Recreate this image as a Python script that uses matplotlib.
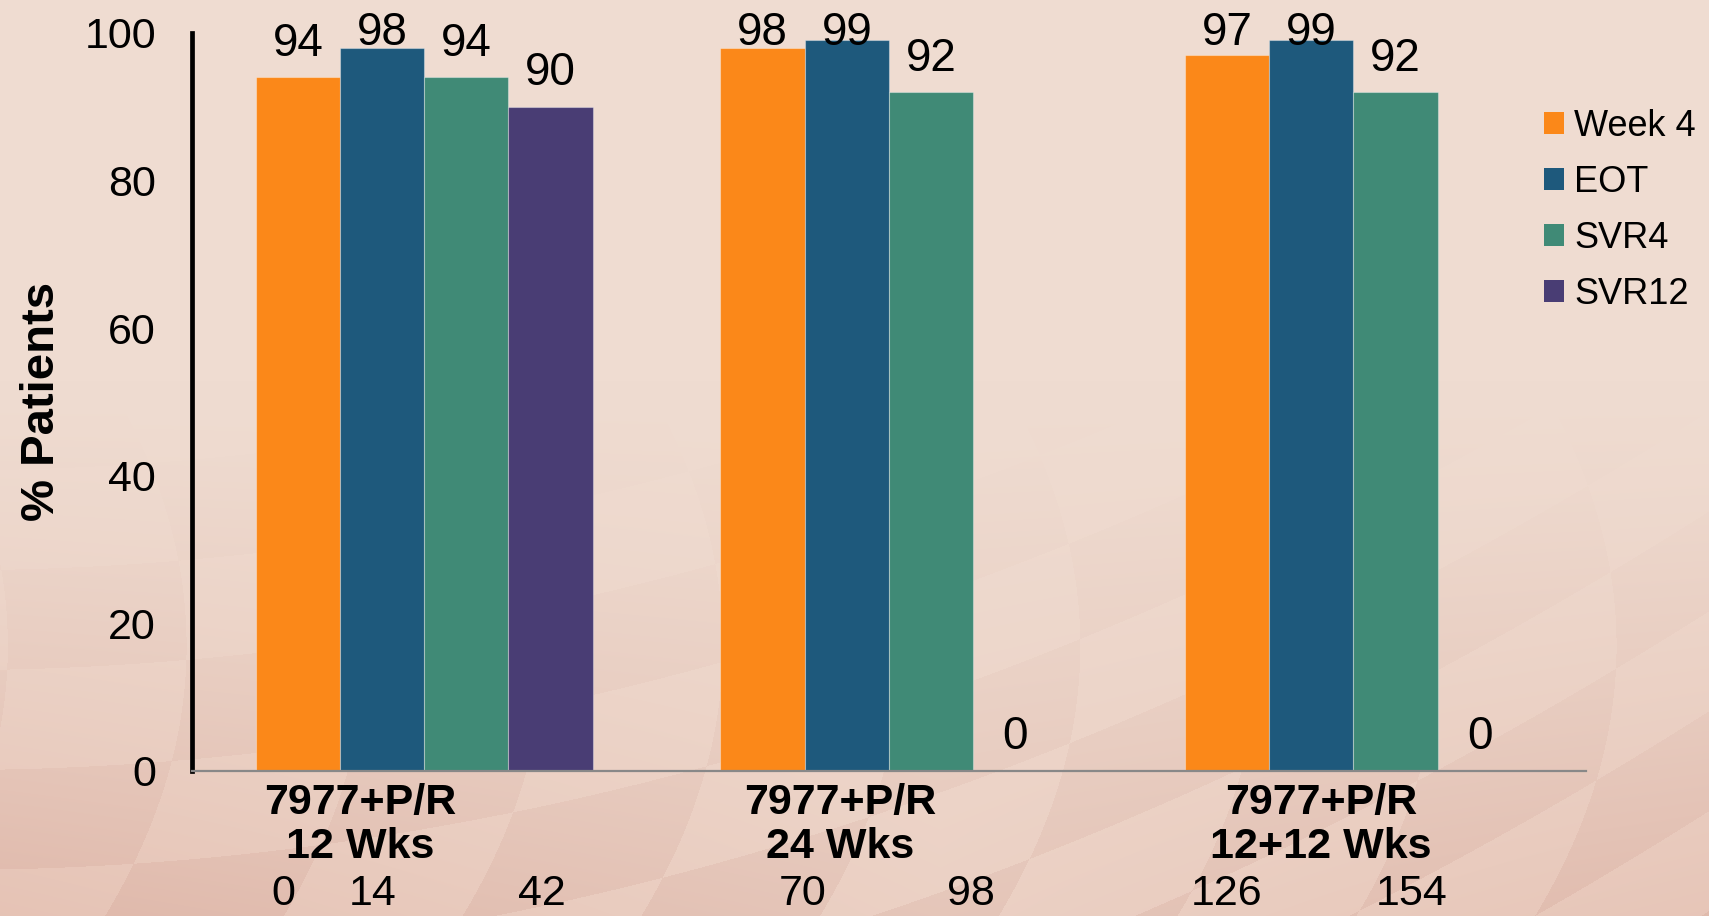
import numpy as np
import matplotlib
matplotlib.use("Agg")
import matplotlib.pyplot as plt
import matplotlib.transforms as mtransforms
from matplotlib.patches import Patch

plt.rcParams['font.family'] = ['Liberation Sans', 'DejaVu Sans']

groups = ['7977+P/R\n12 Wks', '7977+P/R\n24 Wks', '7977+P/R\n12+12 Wks']
series = ['Week 4', 'EOT', 'SVR4', 'SVR12']
week4 = [94, 98, 97]
eot = [98, 99, 99]
svr4 = [94, 92, 92]
svr12 = [90, 0, 0]
values = [week4, eot, svr4, svr12]
colors = ['#FB8819', '#1E597C', '#408A76', '#493D74']

yticks = [0, 20, 40, 60, 80, 100]
week_labels = ['0', '14', '42', '70', '98', '126', '154']
week_xpix = [283, 373, 542, 803, 971, 1227, 1412]
# category labels sit a little left of their bar groups
label_shift_px = [-64, -48.5, -32.5]

W, H = 1709, 916
fig = plt.figure(figsize=(W / 100, H / 100), dpi=100)

# soft pink background with a faint warped checker toward the bottom
bg = fig.add_axes([0, 0, 1, 1], zorder=-10)
yy, xx = np.mgrid[0:H, 0:W].astype(float)
top = np.array([239, 220, 209]) / 255
low = np.array([226, 188, 174]) / 255
fade = np.clip((yy - 380) / 560, 0, 1) ** 1.3
side = 0.55 + 0.45 * np.abs(xx - W * 0.55) / (W * 0.55)
img = top + (low - top) * (fade * side)[..., None]
a = np.deg2rad(-18)
u = (xx * np.cos(a) + yy * np.sin(a)) / 170 + 0.00025 * (yy - 500) ** 2 / 40
v = (-xx * np.sin(a) + yy * np.cos(a)) / 95 + 0.0000018 * (xx - 850) ** 2
chk = ((np.floor(u) + np.floor(v)) % 2) * 2 - 1
img = img + (chk * 0.022 * fade)[..., None] * np.array([0.6, 1.0, 1.0])
bg.imshow(np.clip(img, 0, 1), aspect='auto', extent=[0, 1, 0, 1])
bg.axis('off')

ax = fig.add_axes([192 / W, 1 - 770.7 / H, (1585.7 - 192) / W, (770.7 - 33) / H])
ax.patch.set_alpha(0)

x = np.arange(len(groups))
w = 0.1812
for i, (name, vals) in enumerate(zip(series, values)):
    pos = x + (i - 1.5) * w
    ax.bar(pos, vals, width=w, color=colors[i], label=name,
           edgecolor=(1, 1, 1, 0.35), linewidth=0.8)
    for px_, v in zip(pos, vals):
        ax.text(px_, min(v + 2.9, 98.4), str(v), ha='center', va='baseline',
                fontsize=33, color='black')

ax.set_xlim(-0.5, 2.5)
ax.set_ylim(0, 100)
ax.set_yticks(yticks)
ax.set_yticklabels([str(t) for t in yticks], fontsize=31)
ax.set_xticks(x)
ax.set_xticklabels(groups, fontsize=31, fontweight='bold', linespacing=1.13)
ax.tick_params(axis='y', length=0, pad=26)
ax.tick_params(axis='x', length=0, pad=9)
for lab, dx in zip(ax.get_xticklabels(), label_shift_px):
    lab.set_transform(lab.get_transform() +
                      mtransforms.ScaledTranslation(dx / 100, 0, fig.dpi_scale_trans))

for s in ['top', 'right']:
    ax.spines[s].set_visible(False)
ax.spines['left'].set_linewidth(3.4)
ax.spines['left'].set_color('black')
ax.spines['bottom'].set_linewidth(1.6)
ax.spines['bottom'].set_color('#888888')

fig.text(42 / W, 1 - 401 / H, '% Patients', rotation=90, ha='center',
         va='center', fontsize=34, fontweight='bold')

for lab, px_ in zip(week_labels, week_xpix):
    fig.text(px_ / W, 1 - 905 / H, lab, ha='center', va='baseline', fontsize=31)

handles = [Patch(facecolor=c) for c in colors]
fig.legend(handles, series, loc='upper left', bbox_to_anchor=(1544 / W, 1 - 109 / H),
           frameon=False, fontsize=26, handlelength=0.55, handleheight=0.55,
           handletextpad=0.28, labelspacing=0.58, borderpad=0, borderaxespad=0)

fig.savefig('out.png', dpi=100)
